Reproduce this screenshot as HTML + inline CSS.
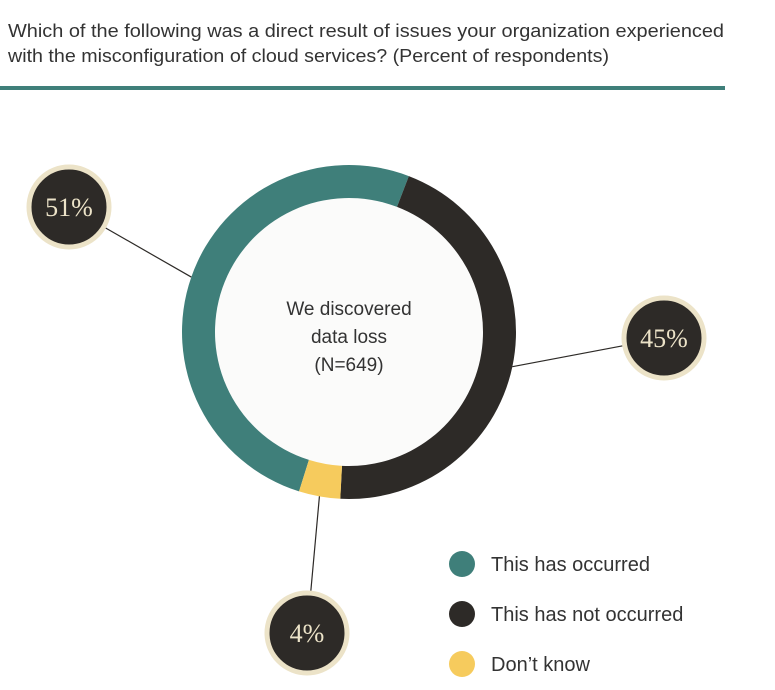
<!DOCTYPE html>
<html><head><meta charset="utf-8"><style>
body{margin:0;background:#fff;}
svg{display:block;font-family:"Liberation Sans",sans-serif;}
</style></head><body>
<svg id="chart" width="775" height="690" viewBox="0 0 775 690">
<text x="8" y="37" font-size="18" fill="#333" textLength="716" lengthAdjust="spacingAndGlyphs">Which of the following was a direct result of issues your organization experienced</text>
<text x="8" y="62" font-size="18" fill="#333" textLength="601" lengthAdjust="spacingAndGlyphs">with the misconfiguration of cloud services? (Percent of respondents)</text>
<rect x="0" y="86" width="725" height="4" fill="#3f7f7a"/>
<g id="slices"></g>
<g id="center-text" font-size="19" fill="#333" text-anchor="middle">
<text x="349" y="315">We discovered</text>
<text x="349" y="343">data loss</text>
<text x="349" y="371">(N=649)</text>
</g>
<g id="badges"></g>
<g id="legend"></g>
</svg>
<script>
const categories = ["This has occurred", "This has not occurred", "Don\u2019t know"];
const values = [51, 45, 4];
const labels = ["51%", "45%", "4%"];
const colors = ["#3f7f7a", "#2d2a27", "#f6cb5d"];
const NS = "http://www.w3.org/2000/svg";
const cx = 349, cy = 332, rO = 167, rI = 134, startDeg = 21;
const total = values.reduce((a, b) => a + b, 0);
function pt(deg, r){const a=(deg-90)*Math.PI/180;return [cx+r*Math.cos(a), cy+r*Math.sin(a)];}
function mk(tag, attrs, parent){const e=document.createElementNS(NS,tag);for(const k in attrs)e.setAttribute(k,attrs[k]);parent.appendChild(e);return e;}
const slices = document.getElementById("slices");
// background texture circle
mk("circle",{cx:cx,cy:cy,r:rI,fill:"#fbfbfa"},slices);
// badge positions (layout, not data)
const badgePos = [[69,207],[664,338],[307,633]];
let acc = startDeg - values[0]/total*360; // teal ends at startDeg
const order = [0,1,2];
let a0 = startDeg - values[0]/total*360;
const badges = document.getElementById("badges");
order.forEach(i=>{
  const sweep = values[i]/total*360;
  const a1 = a0 + sweep;
  const p1=pt(a0,rO), p2=pt(a1,rO), p3=pt(a1,rI), p4=pt(a0,rI);
  const large = sweep>180?1:0;
  const path = mk("path",{d:`M${p1[0]},${p1[1]} A${rO},${rO} 0 ${large} 1 ${p2[0]},${p2[1]} L${p3[0]},${p3[1]} A${rI},${rI} 0 ${large} 0 ${p4[0]},${p4[1]} Z`,fill:colors[i]},slices);
  
  
  // leader line from ring edge toward badge
  const mid = a0 + sweep/2;
  const [bx,by] = badgePos[i];
  const pe = pt(mid, rO);
  const dx=bx-pe[0], dy=by-pe[1], d=Math.hypot(dx,dy);
  const line = mk("line",{x1:pe[0],y1:pe[1],x2:bx-dx/d*42,y2:by-dy/d*42,stroke:"#2d2a27","stroke-width":1.2},badges);
  
  
  const c = mk("circle",{cx:bx,cy:by,r:40,fill:"#2d2a27",stroke:"#ece3c8","stroke-width":5},badges);
  
  
  const t = mk("text",{x:bx,y:by+9,"text-anchor":"middle","font-size":26,fill:"#ece3c8","font-family":"Liberation Serif, serif"},badges);
  t.textContent = labels[i];
  
  
  a0 = a1;
});
const legend = document.getElementById("legend");
categories.forEach((c,i)=>{
  const y = 564 + i*50;
  const dot = mk("circle",{cx:462,cy:y,r:13,fill:colors[i]},legend);
  
  
  const t = mk("text",{x:491,y:y+7,"font-size":20,fill:"#333"},legend);
  t.textContent = c;
  
  
});
</script>
</body></html>
